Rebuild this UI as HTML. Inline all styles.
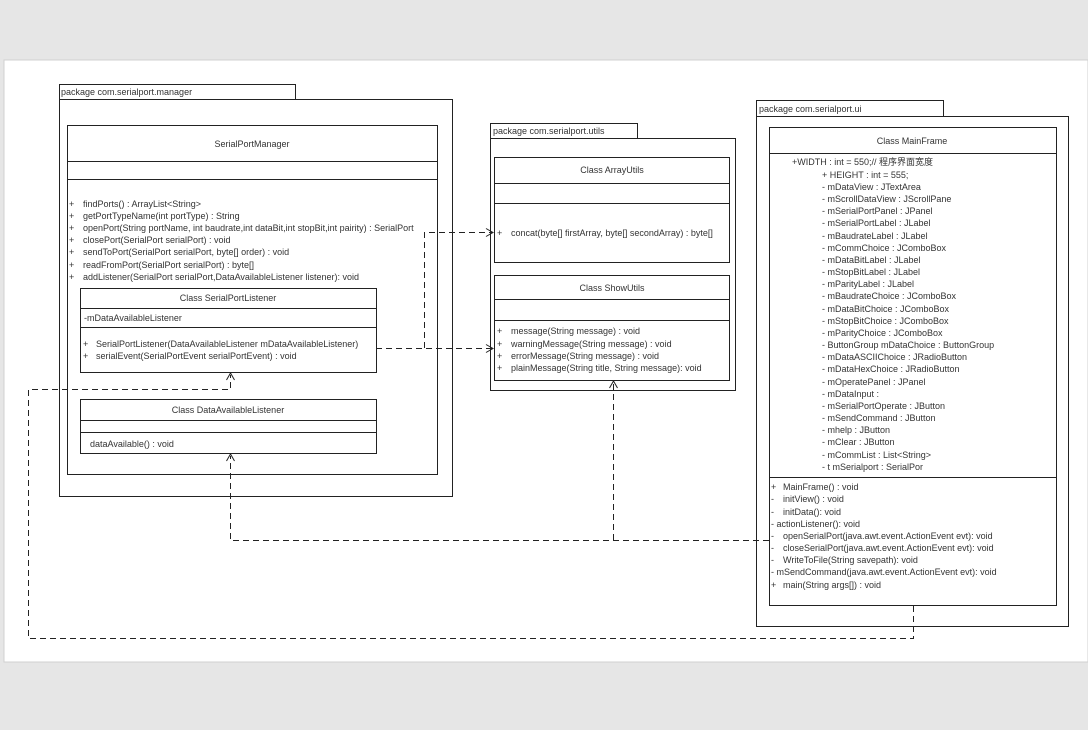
<!DOCTYPE html>
<html><head><meta charset="utf-8"><style>
html,body{margin:0;padding:0;background:#e6e6e6;}
svg{display:block;}
text{font-family:"Liberation Sans","Noto Sans CJK SC",sans-serif;font-size:9px;fill:#333;}
</style></head><body>
<svg width="1088" height="730" xmlns="http://www.w3.org/2000/svg">
<rect x="0" y="0" width="1088" height="730" fill="#e6e6e6"/>
<rect x="4" y="60" width="1084" height="602" fill="#fff" stroke="#d0d0d0" stroke-width="1"/>
<g fill="none" stroke="#222" stroke-width="1">
<rect x="59.5" y="84.5" width="236" height="15"/>
<rect x="59.5" y="99.5" width="393" height="397"/>
<rect x="67.5" y="125.5" width="370" height="349"/>
<line x1="67" y1="161.5" x2="437" y2="161.5"/>
<line x1="67" y1="179.5" x2="437" y2="179.5"/>
<rect x="80.5" y="288.5" width="296" height="84"/>
<line x1="80" y1="308.5" x2="376" y2="308.5"/>
<line x1="80" y1="327.5" x2="376" y2="327.5"/>
<rect x="80.5" y="399.5" width="296" height="54"/>
<line x1="80" y1="420.5" x2="376" y2="420.5"/>
<line x1="80" y1="432.5" x2="376" y2="432.5"/>
<rect x="490.5" y="123.5" width="147" height="15"/>
<rect x="490.5" y="138.5" width="245" height="252"/>
<rect x="494.5" y="157.5" width="235" height="105"/>
<line x1="494" y1="183.5" x2="729" y2="183.5"/>
<line x1="494" y1="203.5" x2="729" y2="203.5"/>
<rect x="494.5" y="275.5" width="235" height="105"/>
<line x1="494" y1="299.5" x2="729" y2="299.5"/>
<line x1="494" y1="320.5" x2="729" y2="320.5"/>
<rect x="756.5" y="100.5" width="187" height="16"/>
<rect x="756.5" y="116.5" width="312" height="510"/>
<rect x="769.5" y="127.5" width="287" height="478"/>
<line x1="769" y1="153.5" x2="1056" y2="153.5"/>
<line x1="769" y1="477.5" x2="1056" y2="477.5"/>
</g>
<g fill="none" stroke="#222" stroke-width="1" stroke-dasharray="6,4">
<polyline points="424.5,348 424.5,232.5 492,232.5"/>
<line x1="376" y1="348.5" x2="492" y2="348.5"/>
<polyline points="769,540.5 230.5,540.5 230.5,456"/>
<line x1="613.5" y1="540" x2="613.5" y2="383"/>
<polyline points="913.5,606 913.5,638.5 28.5,638.5 28.5,389.5 230.5,389.5 230.5,375"/>
</g>
<g fill="none" stroke="#222" stroke-width="1">
<polyline points="486,228.5 493,232.5 486,236.5"/>
<polyline points="486,344.5 493,348.5 486,352.5"/>
<polyline points="226.5,461 230.5,454 234.5,461"/>
<polyline points="609.5,388 613.5,381 617.5,388"/>
<polyline points="226.5,380 230.5,373 234.5,380"/>
</g>
<text x="61" y="95">package com.serialport.manager</text>
<text x="252" y="147" text-anchor="middle">SerialPortManager</text>
<text x="69" y="207">+</text><text x="83" y="207">findPorts() : ArrayList&lt;String&gt;</text>
<text x="69" y="219">+</text><text x="83" y="219">getPortTypeName(int portType) : String</text>
<text x="69" y="231">+</text><text x="83" y="231">openPort(String portName, int baudrate,int dataBit,int stopBit,int pairity) : SerialPort</text>
<text x="69" y="243">+</text><text x="83" y="243">closePort(SerialPort serialPort) :  void</text>
<text x="69" y="255">+</text><text x="83" y="255">sendToPort(SerialPort serialPort, byte[] order) :  void</text>
<text x="69" y="268">+</text><text x="83" y="268">readFromPort(SerialPort serialPort) :  byte[]</text>
<text x="69" y="280">+</text><text x="83" y="280">addListener(SerialPort serialPort,DataAvailableListener listener):  void</text>
<text x="228" y="301" text-anchor="middle">Class SerialPortListener</text>
<text x="84" y="321">-mDataAvailableListener</text>
<text x="83" y="347">+</text><text x="96" y="347">SerialPortListener(DataAvailableListener mDataAvailableListener)</text>
<text x="83" y="359">+</text><text x="96" y="359">serialEvent(SerialPortEvent serialPortEvent) : void</text>
<text x="228" y="413" text-anchor="middle">Class DataAvailableListener</text>
<text x="90" y="447">dataAvailable()  :  void</text>
<text x="493" y="134">package com.serialport.utils</text>
<text x="612" y="173" text-anchor="middle">Class ArrayUtils</text>
<text x="497" y="236">+</text><text x="511" y="236">concat(byte[]  firstArray, byte[] secondArray) :  byte[]</text>
<text x="612" y="291" text-anchor="middle">Class ShowUtils</text>
<text x="497" y="334">+</text><text x="511" y="334">message(String message) :  void</text>
<text x="497" y="347">+</text><text x="511" y="347">warningMessage(String message) :  void</text>
<text x="497" y="359">+</text><text x="511" y="359">errorMessage(String message) :  void</text>
<text x="497" y="371">+</text><text x="511" y="371">plainMessage(String title, String message):  void</text>
<text x="759" y="112">package com.serialport.ui</text>
<text x="912" y="144" text-anchor="middle">Class MainFrame</text>
<text x="792" y="165">+WIDTH :   int = 550;// 程序界面宽度</text>
<text x="822" y="178">+   HEIGHT :  int  =  555;</text>
<text x="822" y="190">-  mDataView : JTextArea</text>
<text x="822" y="202">- mScrollDataView  :  JScrollPane</text>
<text x="822" y="214">- mSerialPortPanel  :  JPanel</text>
<text x="822" y="226">- mSerialPortLabel :  JLabel</text>
<text x="822" y="239">- mBaudrateLabel  :  JLabel</text>
<text x="822" y="251">- mCommChoice  :  JComboBox</text>
<text x="822" y="263">- mDataBitLabel :  JLabel</text>
<text x="822" y="275">- mStopBitLabel :  JLabel</text>
<text x="822" y="287">- mParityLabel :  JLabel</text>
<text x="822" y="299">- mBaudrateChoice  :  JComboBox</text>
<text x="822" y="312">- mDataBitChoice  :  JComboBox</text>
<text x="822" y="324">- mStopBitChoice  :  JComboBox</text>
<text x="822" y="336">- mParityChoice  :  JComboBox</text>
<text x="822" y="348">- ButtonGroup mDataChoice :  ButtonGroup</text>
<text x="822" y="360">- mDataASCIIChoice :  JRadioButton</text>
<text x="822" y="372">- mDataHexChoice :  JRadioButton</text>
<text x="822" y="385">- mOperatePanel :  JPanel</text>
<text x="822" y="397">-  mDataInput :</text>
<text x="822" y="409">- mSerialPortOperate :  JButton</text>
<text x="822" y="421">- mSendCommand :  JButton</text>
<text x="822" y="433">- mhelp :  JButton</text>
<text x="822" y="445">-  mClear :  JButton</text>
<text x="822" y="458">-  mCommList :  List&lt;String&gt;</text>
<text x="822" y="470">- t mSerialport :   SerialPor</text>
<text x="771" y="490">+</text><text x="783" y="490">MainFrame() :  void</text>
<text x="771" y="502">-</text><text x="783" y="502">initView() : void</text>
<text x="771" y="515">-</text><text x="783" y="515">initData(): void</text>
<text x="771" y="527">-  actionListener(): void</text>
<text x="771" y="539">-</text><text x="783" y="539">openSerialPort(java.awt.event.ActionEvent evt): void</text>
<text x="771" y="551">-</text><text x="783" y="551">closeSerialPort(java.awt.event.ActionEvent evt): void</text>
<text x="771" y="563">-</text><text x="783" y="563">WriteToFile(String savepath): void</text>
<text x="771" y="575">-  mSendCommand(java.awt.event.ActionEvent evt): void</text>
<text x="771" y="588">+</text><text x="783" y="588">main(String args[]) :  void</text>
</svg>
</body></html>
